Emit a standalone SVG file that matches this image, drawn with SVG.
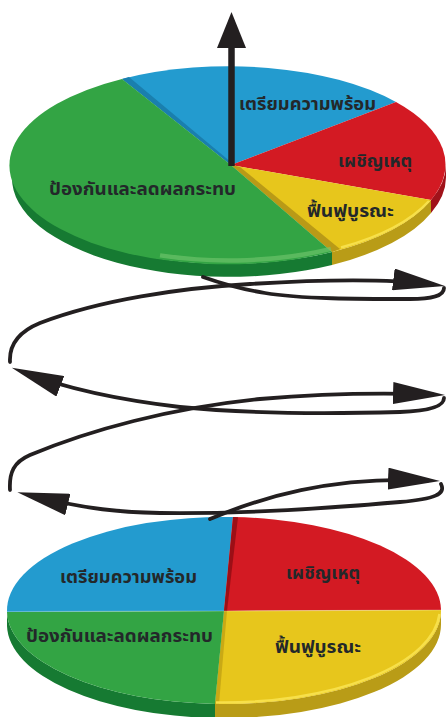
<svg xmlns="http://www.w3.org/2000/svg" width="446" height="717" viewBox="0 0 446 717">
<defs>
<style>
.lbl{font-family:"Noto Sans Thai","Noto Sans","DejaVu Sans",sans-serif;font-size:17px;font-weight:bold;fill:#23282a;text-anchor:middle}
.blue{fill:#239bcf}.red{fill:#d31a23}.yel{fill:#e7c61c}.grn{fill:#33a444}
.grnS{fill:#167a32}.yelS{fill:#b99c17}.redS{fill:#a0121a}
.sp{fill:none;stroke:#231f20;stroke-width:3.8;stroke-linecap:round;marker-end:url(#ah)}
</style>
<marker id="ah" viewBox="0 0 52 22" refX="40" refY="11" markerWidth="52" markerHeight="22" markerUnits="userSpaceOnUse" orient="auto">
<path d="M0,0 L52,11 L0,22 Z" fill="#231f20"/>
</marker>
</defs>

<g id="bottom-pie">
<path class="grnS" d="M7,612 A217 93.5 0 0 0 215,704 L215,718 A217 93.5 0 0 1 7,626 Z"/>
<path class="yelS" d="M215,704 A217 93.5 0 0 0 441,610 L441,624 A217 93.5 0 0 1 215,718 Z"/>
<g id="b-prep"><path class="blue" d="M224,611 L7,612 A217 93.5 0 0 1 233,517 Z"/>
<text class="lbl" x="128.5" y="583" textLength="137" lengthAdjust="spacingAndGlyphs">เตรียมความพร้อม</text></g>
<g id="b-resp"><path class="red" d="M224,611 L233,517 A217 93.5 0 0 1 441,610 Z"/>
<path d="M233,517 L238,517.3 L227,611 L224,611 Z" fill="#9c0f16"/>
<text class="lbl" x="323" y="579" textLength="74" lengthAdjust="spacingAndGlyphs">เผชิญเหตุ</text></g>
<g id="b-recov"><path class="yel" d="M224,611 L441,610 A217 93.5 0 0 1 215,704 Z"/>
<path d="M224,611 L227,611 L219,704 L215,704 Z" fill="#c9a915"/>
<path d="M216,702.5 A217 93.5 0 0 0 439.5,614" fill="none" stroke="#f7e04a" stroke-width="2.5"/>
<text class="lbl" x="318" y="653" textLength="86" lengthAdjust="spacingAndGlyphs">ฟื้นฟูบูรณะ</text></g>
<g id="b-prev"><path class="grn" d="M224,611 L215,704 A217 93.5 0 0 1 7,612 Z"/>
<text class="lbl" x="119.5" y="642" textLength="187" lengthAdjust="spacingAndGlyphs">ป้องกันและลดผลกระทบ</text></g>
<path d="M7,611.5 L224,611 L441,610" fill="none" stroke="#ffffff" stroke-opacity="0.25" stroke-width="1.2"/>
</g>

<g id="top-pie">
<path class="grnS" d="M12,164.5 A217 98.5 0 0 0 332,252 L332,265 A217 98.5 0 0 1 12,177.5 Z"/>
<path class="yelS" d="M332,252 A217 98.5 0 0 0 431,200 L431,213 A217 98.5 0 0 1 332,265 Z"/>
<path class="redS" d="M431,200 A217 98.5 0 0 0 446,164.5 L446,177.5 A217 98.5 0 0 1 431,213 Z"/>
<g id="t-prep"><path class="blue" d="M231,165 L122,79 A217 98.5 0 0 1 396,102 Z"/>
<path d="M122,79 L129,77 L232,163 L231,165 Z" fill="#1a7fae"/>
<text class="lbl" x="307.5" y="110" textLength="137" lengthAdjust="spacingAndGlyphs">เตรียมความพร้อม</text></g>
<g id="t-resp"><path class="red" d="M231,165 L396,102 A217 98.5 0 0 1 431,200 Z"/>
<text class="lbl" x="375" y="167" textLength="74" lengthAdjust="spacingAndGlyphs">เผชิญเหตุ</text></g>
<g id="t-recov"><path class="yel" d="M231,165 L431,200 A217 98.5 0 0 1 332,252 Z"/>
<path d="M231,165 L240,167 L340,249 L332,252 Z" fill="#b99a17"/>
<path d="M341,247.5 A217 98.5 0 0 0 429,201" fill="none" stroke="#f7e04a" stroke-width="2.5"/>
<text class="lbl" x="350.5" y="217" textLength="87" lengthAdjust="spacingAndGlyphs">ฟื้นฟูบูรณะ</text></g>
<g id="t-prev"><path class="grn" d="M231,165 L332,252 A217 98.5 0 1 1 122,79 Z"/>
<path d="M160,257.9 A217 98.5 0 0 0 331,251.4" transform="translate(0,-2.5)" fill="none" stroke="#74c870" stroke-width="4.5" stroke-opacity="0.6"/>
<text class="lbl" x="142.5" y="195" textLength="187" lengthAdjust="spacingAndGlyphs">ป้องกันและลดผลกระทบ</text></g>
</g>

<g id="connectors">
<path class="sp" d="M210,519 C260,498 330,476 428,480.5"/>
<path class="sp" d="M441,484 C446,494 435,499 400,502 C330,508 250,514 160,513 C120,512 90,510 29,495"/>
<path class="sp" d="M10,490 C9,472 14,462 30,455 C90,430 170,408 260,399 C330,393 390,393 433,394.5"/>
<path class="sp" d="M444,398 C444,406 430,411 400,412 C330,414 250,414 180,407 C120,400 70,390 23,372"/>
<path class="sp" d="M10,362 C9,345 18,332 40,323 C100,300 180,288 250,284 C330,279 390,279 433,284.5"/>
<path d="M444,288 C444,296 432,299 410,299 C360,299 300,299 265,293 C240,289 220,283 203,277" fill="none" stroke="#231f20" stroke-width="3.8" stroke-linecap="round"/>
<line x1="231.5" y1="166" x2="231.5" y2="46" stroke="#231f20" stroke-width="6.5"/>
<path d="M217,48 L246,48 L231.5,12 Z" fill="#231f20"/>
</g>
</svg>
